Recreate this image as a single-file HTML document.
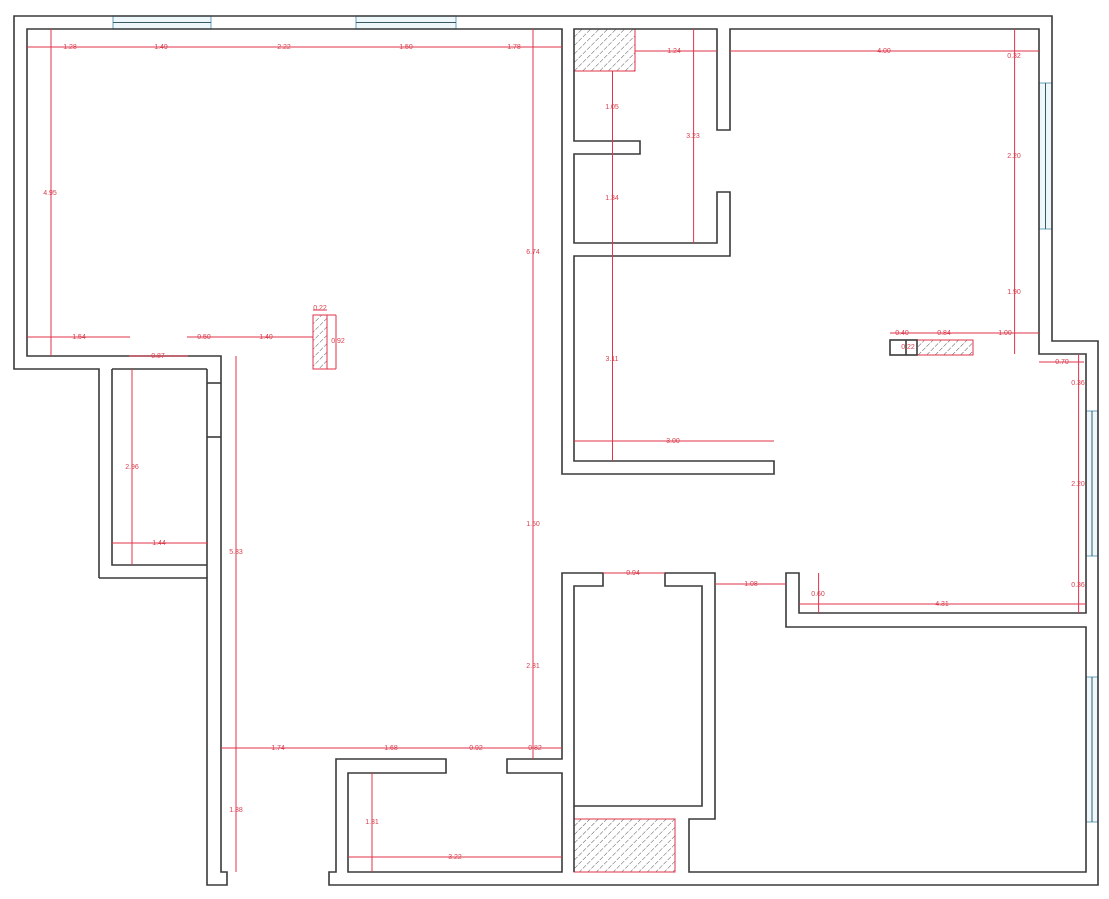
<!DOCTYPE html>
<html><head><meta charset="utf-8"><style>
html,body{margin:0;padding:0;background:#fff;width:1109px;height:899px;overflow:hidden}
svg{display:block}
.w{fill:none;stroke:#3a3a3a;stroke-width:1.6}
.d{stroke:#e0334a;stroke-width:1;fill:none}
.t{font-family:"Liberation Sans",sans-serif;font-size:7px;fill:#d8404f;text-anchor:middle;dominant-baseline:middle}
.win{fill:#eef8fb;stroke:#7fb0c6;stroke-width:1.2}
.wm{stroke:#3a5a68;stroke-width:1}
</style></head><body>
<svg width="1109" height="899" viewBox="0 0 1109 899" xmlns="http://www.w3.org/2000/svg">
<defs>
<pattern id="h" width="6" height="6" patternUnits="userSpaceOnUse" patternTransform="rotate(45)">
<line x1="0" y1="0" x2="0" y2="6" stroke="#555" stroke-width="1" stroke-dasharray="4 1.5"/>
</pattern>
</defs>
<!-- windows -->
<rect class="win" x="113" y="16" width="98" height="13"/><line class="wm" x1="113" y1="22.5" x2="211" y2="22.5"/>
<rect class="win" x="356" y="16" width="100" height="13"/><line class="wm" x1="356" y1="22.5" x2="456" y2="22.5"/>
<rect class="win" x="1039" y="83" width="13" height="146"/><line class="wm" x1="1045.5" y1="83" x2="1045.5" y2="229"/>
<rect class="win" x="1086" y="411" width="12" height="145"/><line class="wm" x1="1092" y1="411" x2="1092" y2="556"/>
<rect class="win" x="1086" y="677" width="12" height="145"/><line class="wm" x1="1092" y1="677" x2="1092" y2="822"/>
<!-- hatches -->
<rect x="574" y="29" width="61" height="42" fill="url(#h)" stroke="#e0334a" stroke-width="1"/>
<rect x="313" y="315" width="14" height="54" fill="url(#h)" stroke="#e0334a" stroke-width="1"/>
<rect x="917" y="340" width="56" height="15" fill="url(#h)" stroke="#e0334a" stroke-width="1"/>
<rect x="574" y="819" width="101" height="53" fill="url(#h)" stroke="#e0334a" stroke-width="1"/>
<!-- walls -->
<polyline class="w" points="99,578 99,369 14,369 14,16 1052,16 1052,341 1098,341 1098,885 329,885 329,872 336,872 336,759 446,759 446,773 348,773 348,872 562,872 562,773 507,773 507,759 562,759 562,573 603,573 603,586 574,586 574,806 702,806 702,586 665,586 665,573 715,573 715,819 689,819 689,872 1086,872 1086,627 786,627 786,573 799,573 799,613 1086,613 1086,354 1039,354 1039,29 730,29 730,130 717,130 717,29 574,29 574,141 640,141 640,154 574,154 574,243 717,243 717,192 730,192 730,256 574,256 574,461 774,461 774,474 562,474 562,29 27,29 27,356 221,356 221,872 227,872 227,885 207,885 207,578 99,578"/>
<polyline class="w" points="112,369 112,565 207,565"/>
<line class="w" x1="112" y1="369" x2="207" y2="369"/>
<line class="w" x1="207" y1="369" x2="207" y2="578"/>
<line class="w" x1="207" y1="383" x2="221" y2="383"/>
<line class="w" x1="207" y1="437" x2="221" y2="437"/>
<line class="w" x1="574" y1="806" x2="574" y2="872"/>
<rect class="w" x="890" y="340" width="27" height="15"/>
<line class="w" x1="906" y1="340" x2="906" y2="355"/>
<!-- dimension lines -->
<g class="d">
<line x1="27" y1="47" x2="562" y2="47"/>
<line x1="51" y1="29" x2="51" y2="356"/>
<line x1="533" y1="29" x2="533" y2="759"/>
<line x1="27" y1="337" x2="130" y2="337"/>
<line x1="187" y1="337" x2="313" y2="337"/>
<line x1="129" y1="356" x2="188" y2="356"/>
<line x1="313" y1="310" x2="327" y2="310"/>
<line x1="327" y1="315" x2="336" y2="315"/><line x1="327" y1="369" x2="336" y2="369"/><line x1="336" y1="315" x2="336" y2="369"/>
<line x1="236" y1="356" x2="236" y2="872"/>
<line x1="132" y1="369" x2="132" y2="565"/>
<line x1="112" y1="543" x2="208" y2="543"/>
<line x1="221" y1="748" x2="562" y2="748"/>
<line x1="372" y1="773" x2="372" y2="872"/>
<line x1="348" y1="857" x2="562" y2="857"/>
<line x1="635" y1="51" x2="717" y2="51"/>
<line x1="730" y1="51" x2="1039" y2="51"/>
<line x1="612.5" y1="71" x2="612.5" y2="461"/>
<line x1="693.6" y1="29" x2="693.6" y2="243"/>
<line x1="574" y1="441" x2="774" y2="441"/>
<line x1="1014.6" y1="29" x2="1014.6" y2="354"/>
<line x1="890" y1="333" x2="1039" y2="333"/>
<line x1="1039" y1="362" x2="1084" y2="362"/>
<line x1="1078.6" y1="354" x2="1078.6" y2="613"/>
<line x1="603" y1="573" x2="665" y2="573"/>
<line x1="715" y1="584" x2="786" y2="584"/>
<line x1="818.6" y1="573" x2="818.6" y2="613"/>
<line x1="799" y1="604" x2="1086" y2="604"/>
</g>
<!-- labels -->
<g class="t">
<text x="70" y="47">1.28</text><text x="161" y="47">1.49</text><text x="284" y="47">2.22</text><text x="406" y="47">1.50</text><text x="514" y="47">1.78</text>
<text x="50" y="193">4.95</text><text x="533" y="252">6.74</text>
<text x="79" y="337">1.54</text><text x="204" y="337">0.50</text><text x="266" y="337">1.40</text>
<text x="320" y="308">0.22</text><text x="338" y="341">0.92</text><text x="158" y="356">0.87</text>
<text x="132" y="467">2.96</text><text x="159" y="543">1.44</text>
<text x="236" y="552">5.33</text><text x="236" y="810">1.38</text>
<text x="533" y="524">1.50</text><text x="533" y="666">2.31</text>
<text x="278" y="748">1.74</text><text x="391" y="748">1.68</text><text x="476" y="748">0.92</text><text x="535" y="748">0.82</text>
<text x="372" y="822">1.31</text><text x="455" y="857">3.22</text>
<text x="674" y="51">1.24</text><text x="884" y="51">4.00</text>
<text x="612" y="107">1.05</text><text x="612" y="198">1.34</text><text x="612" y="359">3.11</text>
<text x="693" y="136">3.23</text><text x="673" y="441">3.00</text>
<text x="1014" y="56">0.32</text><text x="1014" y="156">2.20</text><text x="1014" y="292">1.90</text>
<text x="902" y="333">0.40</text><text x="944" y="333">0.84</text><text x="1005" y="333">1.00</text><text x="908" y="347">0.22</text>
<text x="1062" y="362">0.70</text><text x="1078" y="383">0.36</text><text x="1078" y="484">2.20</text><text x="1078" y="585">0.36</text>
<text x="633" y="573">0.94</text><text x="751" y="584">1.08</text><text x="818" y="594">0.60</text><text x="942" y="604">4.31</text>
</g>
</svg>
</body></html>
